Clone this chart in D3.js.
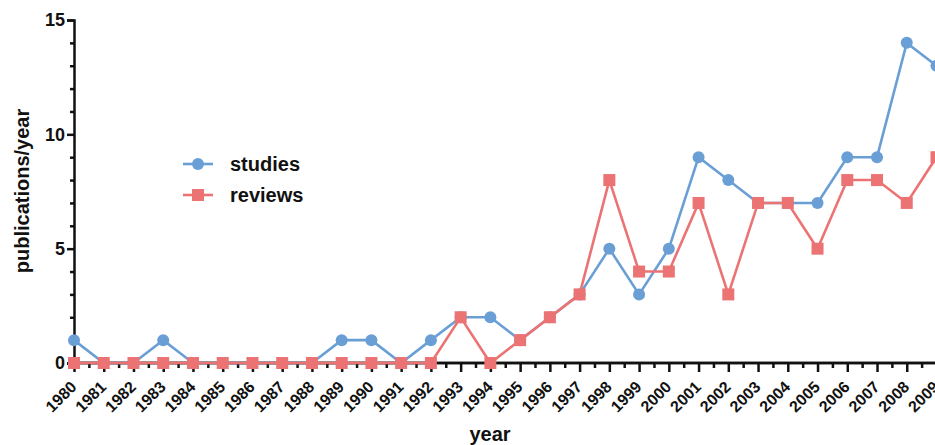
<!DOCTYPE html>
<html><head><meta charset="utf-8">
<script src="https://cdn.jsdelivr.net/npm/d3@7/dist/d3.min.js"></script>
<style>
body{margin:0;background:#fff;}
svg{display:block;font-family:"Liberation Sans",Arial,Helvetica,sans-serif;font-weight:bold;}
</style></head>
<body><svg id="c" width="935" height="445"></svg>
<script>
const years = [1980,1981,1982,1983,1984,1985,1986,1987,1988,1989,1990,1991,1992,1993,1994,1995,1996,1997,1998,1999,2000,2001,2002,2003,2004,2005,2006,2007,2008,2009];
const studies = [1,0,0,1,0,0,0,0,0,1,1,0,1,2,2,1,2,3,5,3,5,9,8,7,7,7,9,9,14,13];
const reviews = [0,0,0,0,0,0,0,0,0,0,0,0,0,2,0,1,2,3,8,4,4,7,3,7,7,5,8,8,7,9];
const yTicks = [0,5,10,15];
const seriesNames = ["studies","reviews"];
const colors = {studies:"#6a9fd6", reviews:"#ec7373"};

const svg = d3.select("#c");
const x = d3.scaleLinear().domain([1980,2009]).range([74,936.5]);
const y = d3.scaleLinear().domain([0,15]).range([363,20]);

// y axis
const yAxis = svg.append("g").attr("transform","translate(74,0)");
yAxis.call(d3.axisLeft(y).tickValues(yTicks).tickSize(7).tickPadding(2).tickFormat(d3.format("d")));
yAxis.append("g").call(d3.axisLeft(y).tickValues(d3.range(0,16).filter(v=>v%5)).tickSize(4).tickFormat(""));
yAxis.selectAll(".domain").attr("stroke","#111").attr("stroke-width",2.5);
yAxis.selectAll(".tick line").attr("stroke","#111").attr("stroke-width",2.5);
yAxis.selectAll("text").attr("font-size",18).attr("font-weight","bold").attr("fill","#111").attr("font-family","Liberation Sans, Arial, sans-serif");
yAxis.selectAll("g > g > .domain").remove();

// x axis
const xAxis = svg.append("g").attr("transform","translate(0,363)");
xAxis.call(d3.axisBottom(x).tickValues(years).tickSize(9).tickFormat(d3.format("d")).tickSizeOuter(0));
xAxis.append("g").call(d3.axisBottom(x).tickValues(years.map(v=>v+0.5)).tickSize(5).tickFormat("").tickSizeOuter(0));
xAxis.selectAll(".domain").attr("stroke","#111").attr("stroke-width",2.5).attr("d","M74,0H940");
xAxis.selectAll(".tick line").attr("stroke","#111").attr("stroke-width",2.5);
xAxis.selectAll("text").attr("font-size",16).attr("font-weight","bold").attr("fill","#111")
  .attr("font-family","Liberation Sans, Arial, sans-serif")
  .attr("text-anchor","end").attr("x",0).attr("y",0).attr("dy","0.35em")
  .attr("transform","translate(-1,21) rotate(-45)");

// axis titles
svg.append("text").attr("transform","translate(29,191) rotate(-90)").attr("text-anchor","middle")
  .attr("font-size",20).attr("fill","#111").text("publications/year");
svg.append("text").attr("x",490).attr("y",441).attr("text-anchor","middle")
  .attr("font-size",20).attr("fill","#111").text("year");

// series
const data = {studies, reviews};
const line = d3.line().x((d,i)=>x(years[i])).y(d=>y(d));
seriesNames.forEach(name=>{
  const g = svg.append("g");
  g.append("path").datum(data[name]).attr("d",line).attr("fill","none")
    .attr("stroke",colors[name]).attr("stroke-width",2.6);
  if(name==="studies"){
    g.selectAll("circle").data(data[name]).join("circle")
      .attr("cx",(d,i)=>x(years[i])).attr("cy",d=>y(d)).attr("r",6).attr("fill",colors[name]);
  } else {
    g.selectAll("rect").data(data[name]).join("rect")
      .attr("x",(d,i)=>x(years[i])-6).attr("y",d=>y(d)-6).attr("width",12).attr("height",12).attr("fill",colors[name]);
  }
});

// legend
const leg = svg.append("g");
seriesNames.forEach((name,i)=>{
  const ly = 164 + i*31;
  leg.append("line").attr("x1",183).attr("x2",213).attr("y1",ly).attr("y2",ly).attr("stroke",colors[name]).attr("stroke-width",2.6);
  if(name==="studies") leg.append("circle").attr("cx",198).attr("cy",ly).attr("r",6).attr("fill",colors[name]);
  else leg.append("rect").attr("x",192).attr("y",ly-6).attr("width",12).attr("height",12).attr("fill",colors[name]);
  leg.append("text").attr("x",230).attr("y",ly+7).attr("font-size",20).attr("fill","#111").text(name);
});
</script></body></html>
